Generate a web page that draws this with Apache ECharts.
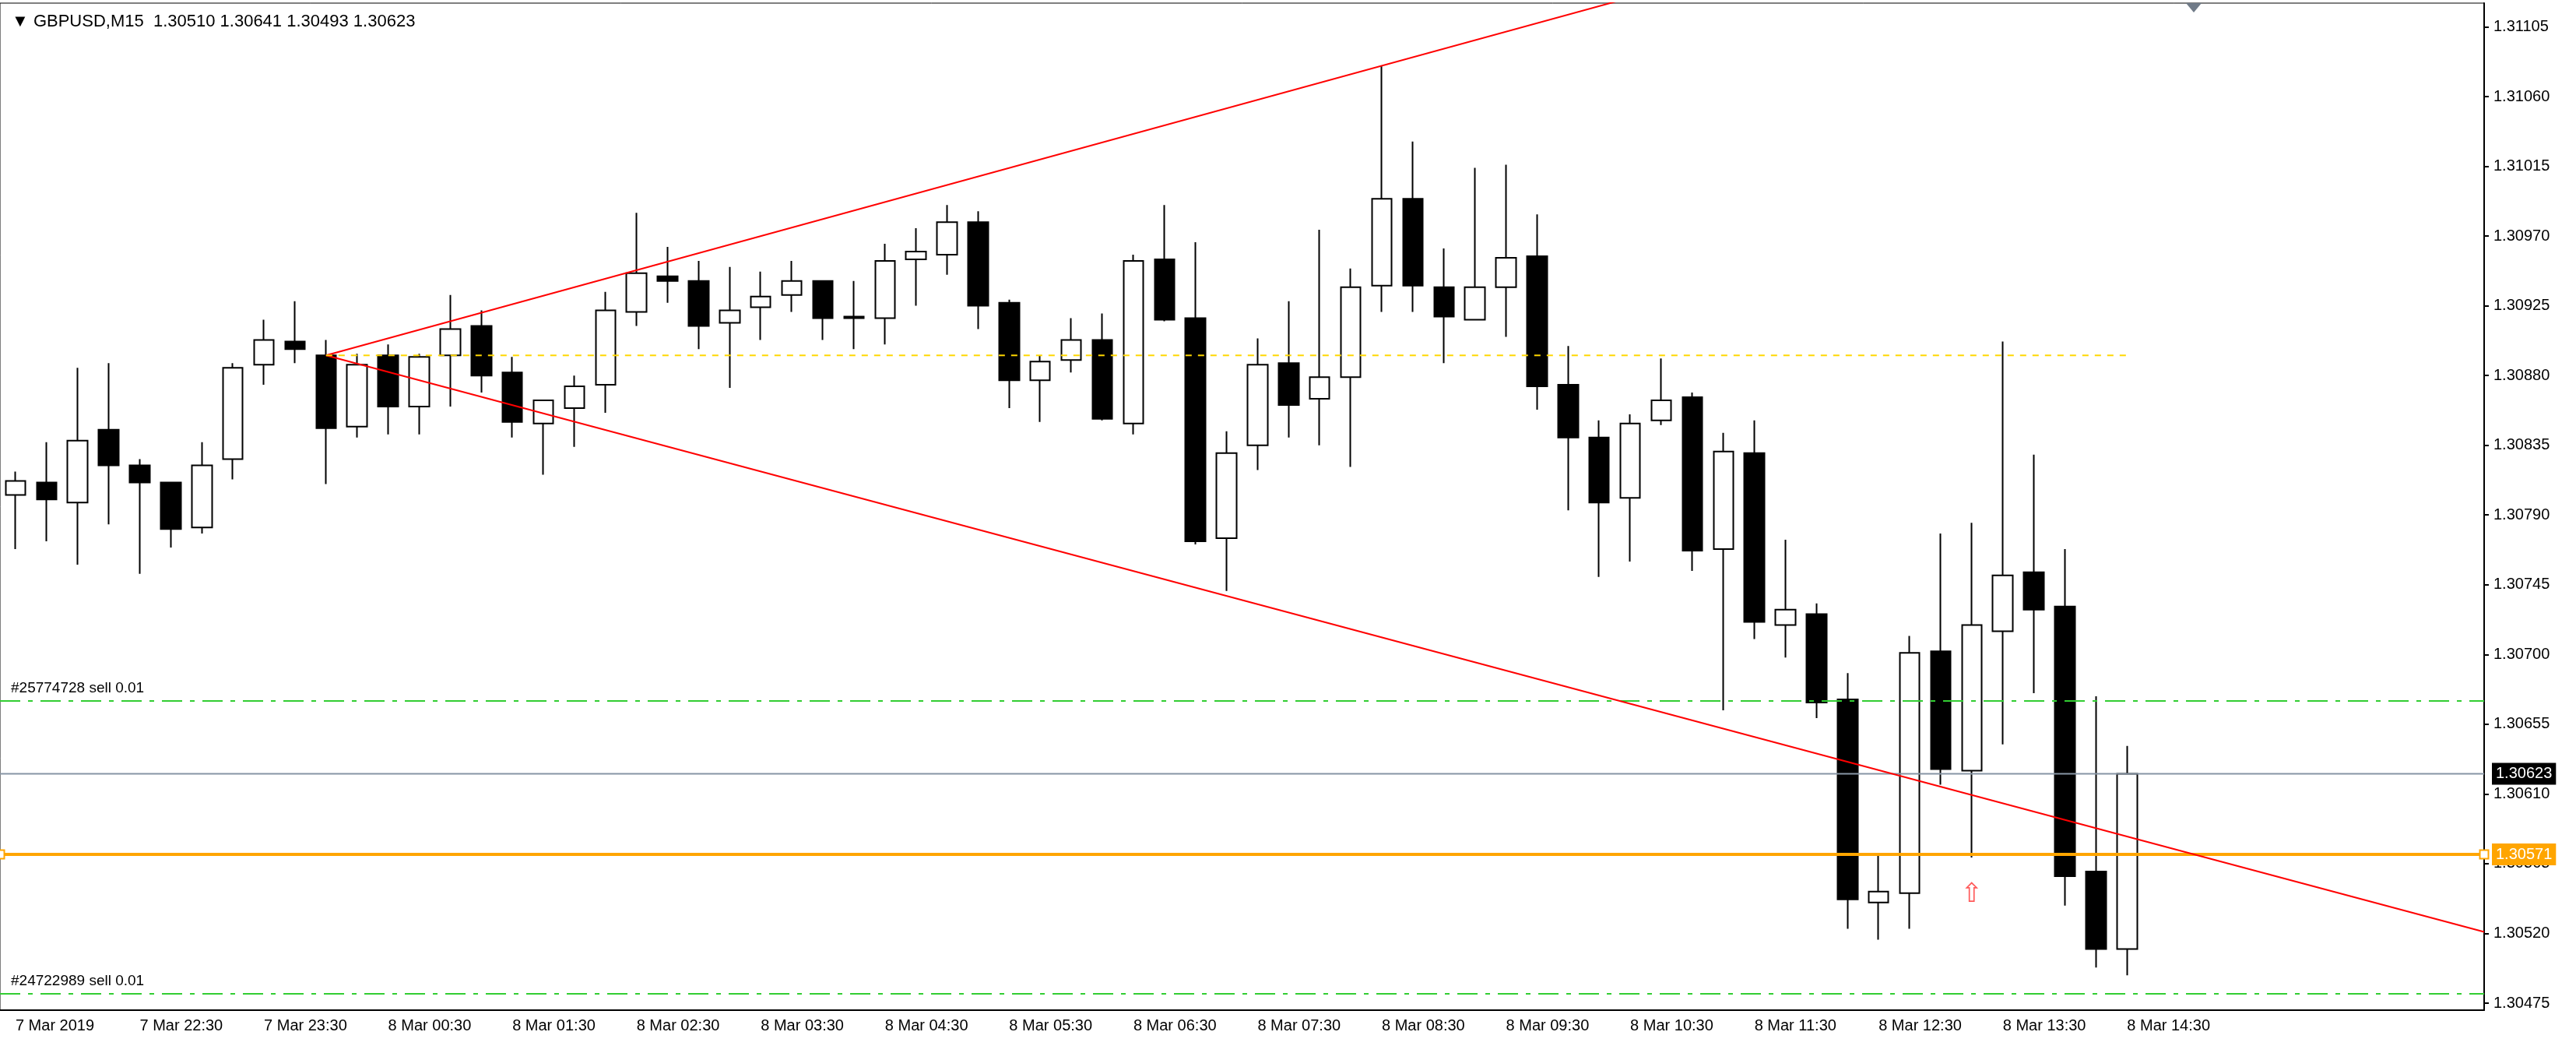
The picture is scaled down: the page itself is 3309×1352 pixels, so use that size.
<!DOCTYPE html>
<html>
<head>
<meta charset="utf-8">
<script src="https://cdn.jsdelivr.net/npm/echarts@6/dist/echarts.min.js"></script>
<style>
  html, body { margin: 0; padding: 0; background: #fff; }
  #chart { width: 3309px; height: 1352px; }
</style>
</head>
<body>
<div id="chart"></div>
<script>
// GBPUSD M15, 7 Mar 21:30 .. 8 Mar 14:30 (69 bars)
const opens  = [1.30803,1.30811,1.30798,1.30845,1.30822,1.30811,1.30782,1.30826,1.30887,1.30902,
                1.30893,1.30847,1.30893,1.30860,1.30893,1.30912,1.30882,1.30849,1.30859,1.30874,
                1.30921,1.30944,1.30941,1.30914,1.30924,1.30932,1.30941,1.30918,1.30917,1.30955,
                1.30958,1.30979,1.30927,1.30877,1.30890,1.30903,1.30849,1.30955,1.30917,1.30775,
                1.30835,1.30888,1.30865,1.30879,1.30938,1.30994,1.30937,1.30916,1.30937,1.30957,
                1.30874,1.30840,1.30801,1.30851,1.30866,1.30768,1.30830,1.30719,1.30726,1.30671,
                1.30540,1.30546,1.30702,1.30625,1.30715,1.30753,1.30731,1.30560,1.30510];
const closes = [1.30812,1.30800,1.30838,1.30822,1.30811,1.30781,1.30822,1.30885,1.30903,1.30897,
                1.30846,1.30887,1.30860,1.30892,1.30910,1.30880,1.30850,1.30864,1.30873,1.30922,
                1.30946,1.30941,1.30912,1.30922,1.30931,1.30941,1.30917,1.30917,1.30954,1.30960,
                1.30979,1.30925,1.30877,1.30889,1.30903,1.30852,1.30954,1.30916,1.30773,1.30830,
                1.30887,1.30861,1.30879,1.30937,1.30994,1.30938,1.30918,1.30937,1.30956,1.30873,
                1.30840,1.30798,1.30849,1.30864,1.30767,1.30831,1.30721,1.30729,1.30669,1.30542,
                1.30547,1.30701,1.30626,1.30719,1.30751,1.30729,1.30557,1.30510,1.30623];
const lows   = [1.30768,1.30773,1.30758,1.30784,1.30752,1.30769,1.30778,1.30813,1.30874,1.30888,
                1.30810,1.30840,1.30842,1.30842,1.30860,1.30869,1.30840,1.30816,1.30834,1.30856,
                1.30912,1.30927,1.30897,1.30872,1.30903,1.30921,1.30903,1.30897,1.30900,1.30925,
                1.30945,1.30910,1.30859,1.30850,1.30882,1.30851,1.30842,1.30915,1.30771,1.30741,
                1.30819,1.30840,1.30835,1.30821,1.30921,1.30921,1.30888,1.30916,1.30905,1.30858,
                1.30793,1.30750,1.30760,1.30848,1.30754,1.30664,1.30710,1.30698,1.30659,1.30523,
                1.30516,1.30523,1.30616,1.30569,1.30642,1.30675,1.30538,1.30498,1.30493];
const highs  = [1.30818,1.30837,1.30885,1.30888,1.30826,1.30811,1.30837,1.30888,1.30916,1.30928,
                1.30903,1.30894,1.30900,1.30894,1.30932,1.30922,1.30892,1.30864,1.30880,1.30934,
                1.30985,1.30963,1.30954,1.30950,1.30947,1.30954,1.30941,1.30941,1.30965,1.30975,
                1.30990,1.30986,1.30929,1.30893,1.30917,1.30920,1.30958,1.30990,1.30966,1.30844,
                1.30904,1.30928,1.30974,1.30949,1.31080,1.31031,1.30962,1.31014,1.31016,1.30984,
                1.30899,1.30851,1.30855,1.30891,1.30869,1.30843,1.30851,1.30774,1.30733,1.30688,
                1.30572,1.30712,1.30778,1.30785,1.30902,1.30829,1.30768,1.30673,1.30641];

const emptySlots = 11;   // chart shift area on the right
const xTickLabels = ['7 Mar 2019','7 Mar 22:30','7 Mar 23:30','8 Mar 00:30','8 Mar 01:30','8 Mar 02:30',
                     '8 Mar 03:30','8 Mar 04:30','8 Mar 05:30','8 Mar 06:30','8 Mar 07:30','8 Mar 08:30',
                     '8 Mar 09:30','8 Mar 10:30','8 Mar 11:30','8 Mar 12:30','8 Mar 13:30','8 Mar 14:30'];
const xTickStep = 4;
const yTickLabels = [1.30475,1.30520,1.30565,1.30610,1.30655,1.30700,1.30745,1.30790,
                     1.30835,1.30880,1.30925,1.30970,1.31015,1.31060,1.31105];

const bidPrice = 1.30623;
const orangeLevel = 1.30571;
const yellowLevel = 1.30893;
const orders = [{ name: '#25774728 sell 0.01', price: 1.30670 },
                { name: '#24722989 sell 0.01', price: 1.30481 }];
const upperTrend = [[10, 1.30893], [79.5, 1.31275]];
const lowerTrend = [[10, 1.30893], [79.5, 1.30521]];
const yellowSpan = [10, 68];
const arrowPoint = [63, 1.30545];

const n = opens.length;
const slots = n + emptySlots;
const xLeft = -0.5, xRight = slots - 0.5;
const categories = [];
for (let i = 0; i < slots; i++) categories.push(String(i));
const candles = opens.map((o, i) => [o, closes[i], lows[i], highs[i]]);
for (let i = 0; i < emptySlots; i++) candles.push('-');

const chart = echarts.init(document.getElementById('chart'));
const font = 'Liberation Sans, DejaVu Sans, sans-serif';

function hline(price, lineStyle, extra) {
  return Object.assign({
    type: 'line', xAxisIndex: 1, symbol: 'none', silent: true,
    data: [[xLeft, price], [xRight, price]],
    lineStyle: lineStyle
  }, extra || {});
}
function priceTag(price, bg) {
  return {
    show: true, formatter: price.toFixed(5), distance: 10, color: '#fff', backgroundColor: bg,
    padding: [4, 5], fontFamily: font, fontSize: 20
  };
}

const series = [{
  type: 'candlestick',
  data: candles,
  barWidth: 26,
  itemStyle: { color: '#fff', color0: '#000', borderColor: '#000', borderColor0: '#000', borderWidth: 2 }
},
hline(bidPrice, { color: '#8795a5', width: 2 }, { endLabel: priceTag(bidPrice, '#000') }),
hline(orangeLevel, { color: '#ffa500', width: 4 }, {
  symbol: 'emptyRect', symbolSize: 11, showSymbol: true,
  itemStyle: { color: '#ffa500', borderColor: '#ffa500', borderWidth: 3 },
  endLabel: priceTag(orangeLevel, '#ffa500')
}),
...orders.map(o => hline(o.price, { color: '#32cd32', width: 2, type: [26, 10, 6, 10] }, {
  data: [{ value: [xLeft, o.price], label: { show: true, position: [14, -26], formatter: o.name,
          color: '#000', fontFamily: font, fontSize: 19 } }, [xRight, o.price]],
  symbol: 'circle', symbolSize: 0, showSymbol: true
})),
{
  type: 'line', xAxisIndex: 1, data: upperTrend, symbol: 'none', clip: true,
  lineStyle: { color: '#ff0000', width: 2 }
}, {
  type: 'line', xAxisIndex: 1, data: lowerTrend, symbol: 'none', clip: true,
  lineStyle: { color: '#ff0000', width: 2 }
}, {
  type: 'line', xAxisIndex: 1, symbol: 'none',
  data: [[yellowSpan[0], yellowLevel], [yellowSpan[1], yellowLevel]],
  lineStyle: { color: '#ffd700', width: 2, type: [8, 8] }
}, {
  type: 'scatter', xAxisIndex: 1, data: [arrowPoint], symbolSize: 1,
  itemStyle: { color: 'rgba(0,0,0,0)' },
  label: { show: true, position: 'inside', formatter: '⇧', color: '#ff3030',
           fontSize: 34, fontFamily: 'DejaVu Sans' }
}];

chart.setOption({
  animation: false,
  backgroundColor: '#fff',
  title: {
    text: '▼ GBPUSD,M15  1.30510 1.30641 1.30493 1.30623',
    left: 10, top: 12,
    textStyle: { fontFamily: font, fontSize: 22, fontWeight: 'normal', color: '#000' }
  },
  grid: { left: -19, right: 118, top: 4, bottom: 55, show: true, borderColor: '#000', borderWidth: 1 },
  xAxis: [{
    type: 'category',
    data: categories,
    boundaryGap: true,
    axisLine: { onZero: false, lineStyle: { color: '#000', width: 2 } },
    axisTick: {
      alignWithLabel: true, length: 6, lineStyle: { color: '#000', width: 2 },
      interval: (i) => i % xTickStep === 0 && i / xTickStep < xTickLabels.length
    },
    axisLabel: {
      interval: (i) => i % xTickStep === 0 && i / xTickStep < xTickLabels.length,
      formatter: (v, i) => xTickLabels[i / xTickStep] || '',
      align: 'left', margin: 10, fontFamily: font, fontSize: 20, color: '#000'
    },
    splitLine: { show: false }
  }, {
    type: 'value', min: xLeft, max: xRight, show: false
  }],
  yAxis: {
    type: 'value',
    position: 'right',
    min: 1.304705, max: 1.311203,
    axisLine: { show: true, onZero: false, lineStyle: { color: '#000', width: 2 } },
    axisTick: { show: true, length: 6, customValues: yTickLabels, lineStyle: { color: '#000', width: 2 } },
    axisLabel: {
      customValues: yTickLabels,
      formatter: (v) => v.toFixed(5),
      margin: 12, fontFamily: font, fontSize: 20, color: '#000'
    },
    splitLine: { show: false }
  },
  series: series,
  graphic: [{
    type: 'polygon', left: 2808, top: 4,
    shape: { points: [[0, 0], [20, 0], [10, 12]] },
    style: { fill: '#707b88' }
  }]
});
</script>
</body>
</html>
